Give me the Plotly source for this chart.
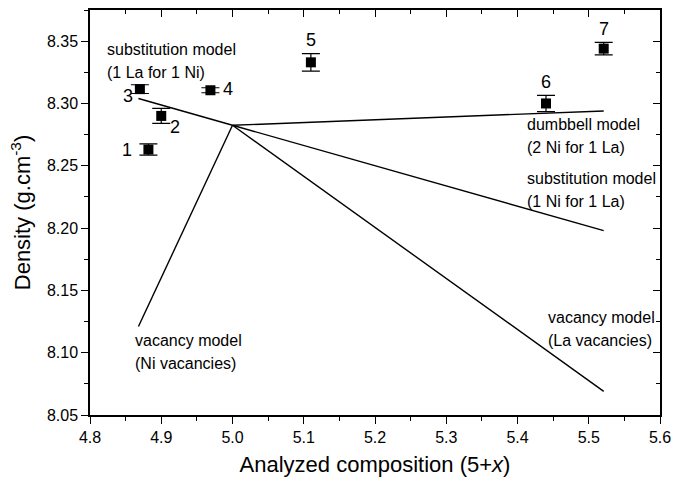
import plotly.graph_objects as go

# Measured samples
sample_x = [4.882, 4.900, 4.870, 4.969, 5.110, 5.440, 5.521]
sample_y = [8.263, 8.290, 8.3115, 8.3106, 8.333, 8.300, 8.344]
sample_err = [0.0045, 0.006, 0.0035, 0.002, 0.007, 0.0065, 0.005]
sample_labels = ["1", "2", "3", "4", "5", "6", "7"]
label_x = [4.852, 4.919, 4.853, 4.994, 5.110, 5.440, 5.522]
label_y = [8.263, 8.281, 8.3056, 8.3115, 8.351, 8.317, 8.360]

# Model lines (all start at the stoichiometric point)
origin_x = 5.0
origin_y = 8.2825
model_names = ["sub_La_for_Ni", "vac_Ni", "dumbbell", "sub_Ni_for_La", "vac_La"]
model_end_x = [4.868, 4.868, 5.521, 5.521, 5.521]
model_end_y = [8.304, 8.121, 8.294, 8.198, 8.069]

# Model text labels
text_lines = ["substitution model", "(1 La for 1 Ni)",
              "dumbbell model", "(2 Ni for 1 La)",
              "substitution model", "(1 Ni for 1 La)",
              "vacancy model", "(La vacancies)",
              "vacancy model", "(Ni vacancies)"]
text_x = [4.821, 4.821, 5.411, 5.411, 5.411, 5.411, 5.440, 5.440, 4.860, 4.860]
text_y = [8.343, 8.325, 8.283, 8.265, 8.2395, 8.221, 8.128, 8.1096, 8.1096, 8.091]

FONT = "Liberation Sans, Arial, sans-serif"
xr = [4.8, 5.6]
yr = [8.05, 8.375]

fig = go.Figure()

for ex, ey in zip(model_end_x, model_end_y):
    fig.add_trace(go.Scatter(x=[origin_x, ex], y=[origin_y, ey], mode="lines",
                             line=dict(color="black", width=1.4), showlegend=False,
                             hoverinfo="skip"))

fig.add_trace(go.Scatter(
    x=sample_x, y=sample_y, mode="markers",
    marker=dict(symbol="square", size=10, color="black"),
    error_y=dict(type="data", array=sample_err, color="black", thickness=1.2, width=9),
    showlegend=False))

# invisible trace for mirrored axes
fig.add_trace(go.Scatter(x=xr, y=yr, xaxis="x2", yaxis="y2", mode="markers",
                         marker=dict(opacity=0), showlegend=False, hoverinfo="skip"))

for t, x, y in zip(sample_labels, label_x, label_y):
    fig.add_annotation(x=x, y=y, text=t, showarrow=False, xanchor="center",
                       yanchor="middle", font=dict(family=FONT, size=18, color="black"))

for t, x, y in zip(text_lines, text_x, text_y):
    fig.add_annotation(x=x, y=y, text=t, showarrow=False, xanchor="left",
                       yanchor="middle", font=dict(family=FONT, size=16, color="black"))

axis_common = dict(showgrid=False, zeroline=False, linecolor="black", linewidth=1.5,
                   tickcolor="black", tickwidth=1.3)

fig.update_layout(
    width=690, height=483,
    margin=dict(l=90, r=30, t=10, b=65),
    paper_bgcolor="white", plot_bgcolor="white",
    font=dict(family=FONT, color="black"),
    xaxis=dict(range=xr, dtick=0.1, tick0=4.8, ticks="outside", ticklen=7,
               tickformat=".1f", tickfont=dict(size=16),
               minor=dict(dtick=0.05, ticks="outside", ticklen=4, tickcolor="black"),
               title=dict(text="Analyzed composition (5+<i>x</i>)", font=dict(size=22),
                          standoff=12),
               **axis_common),
    yaxis=dict(range=yr, dtick=0.05, tick0=8.05, ticks="outside", ticklen=7,
               tickformat=".2f", tickfont=dict(size=16),
               minor=dict(dtick=0.025, ticks="outside", ticklen=4, tickcolor="black"),
               title=dict(text="Density (g.cm<sup>-3</sup>)", font=dict(size=22),
                          standoff=10),
               **axis_common),
    xaxis2=dict(range=xr, overlaying="x", side="top", anchor="y2", dtick=0.1, tick0=4.8,
                ticks="inside", ticklen=7, showticklabels=False,
                minor=dict(dtick=0.05, ticks="inside", ticklen=4, tickcolor="black"),
                **axis_common),
    yaxis2=dict(range=yr, overlaying="y", side="right", anchor="x2", dtick=0.05, tick0=8.05,
                ticks="inside", ticklen=7, showticklabels=False,
                minor=dict(dtick=0.025, ticks="inside", ticklen=4, tickcolor="black"),
                **axis_common),
)

fig.write_html("out.html")
